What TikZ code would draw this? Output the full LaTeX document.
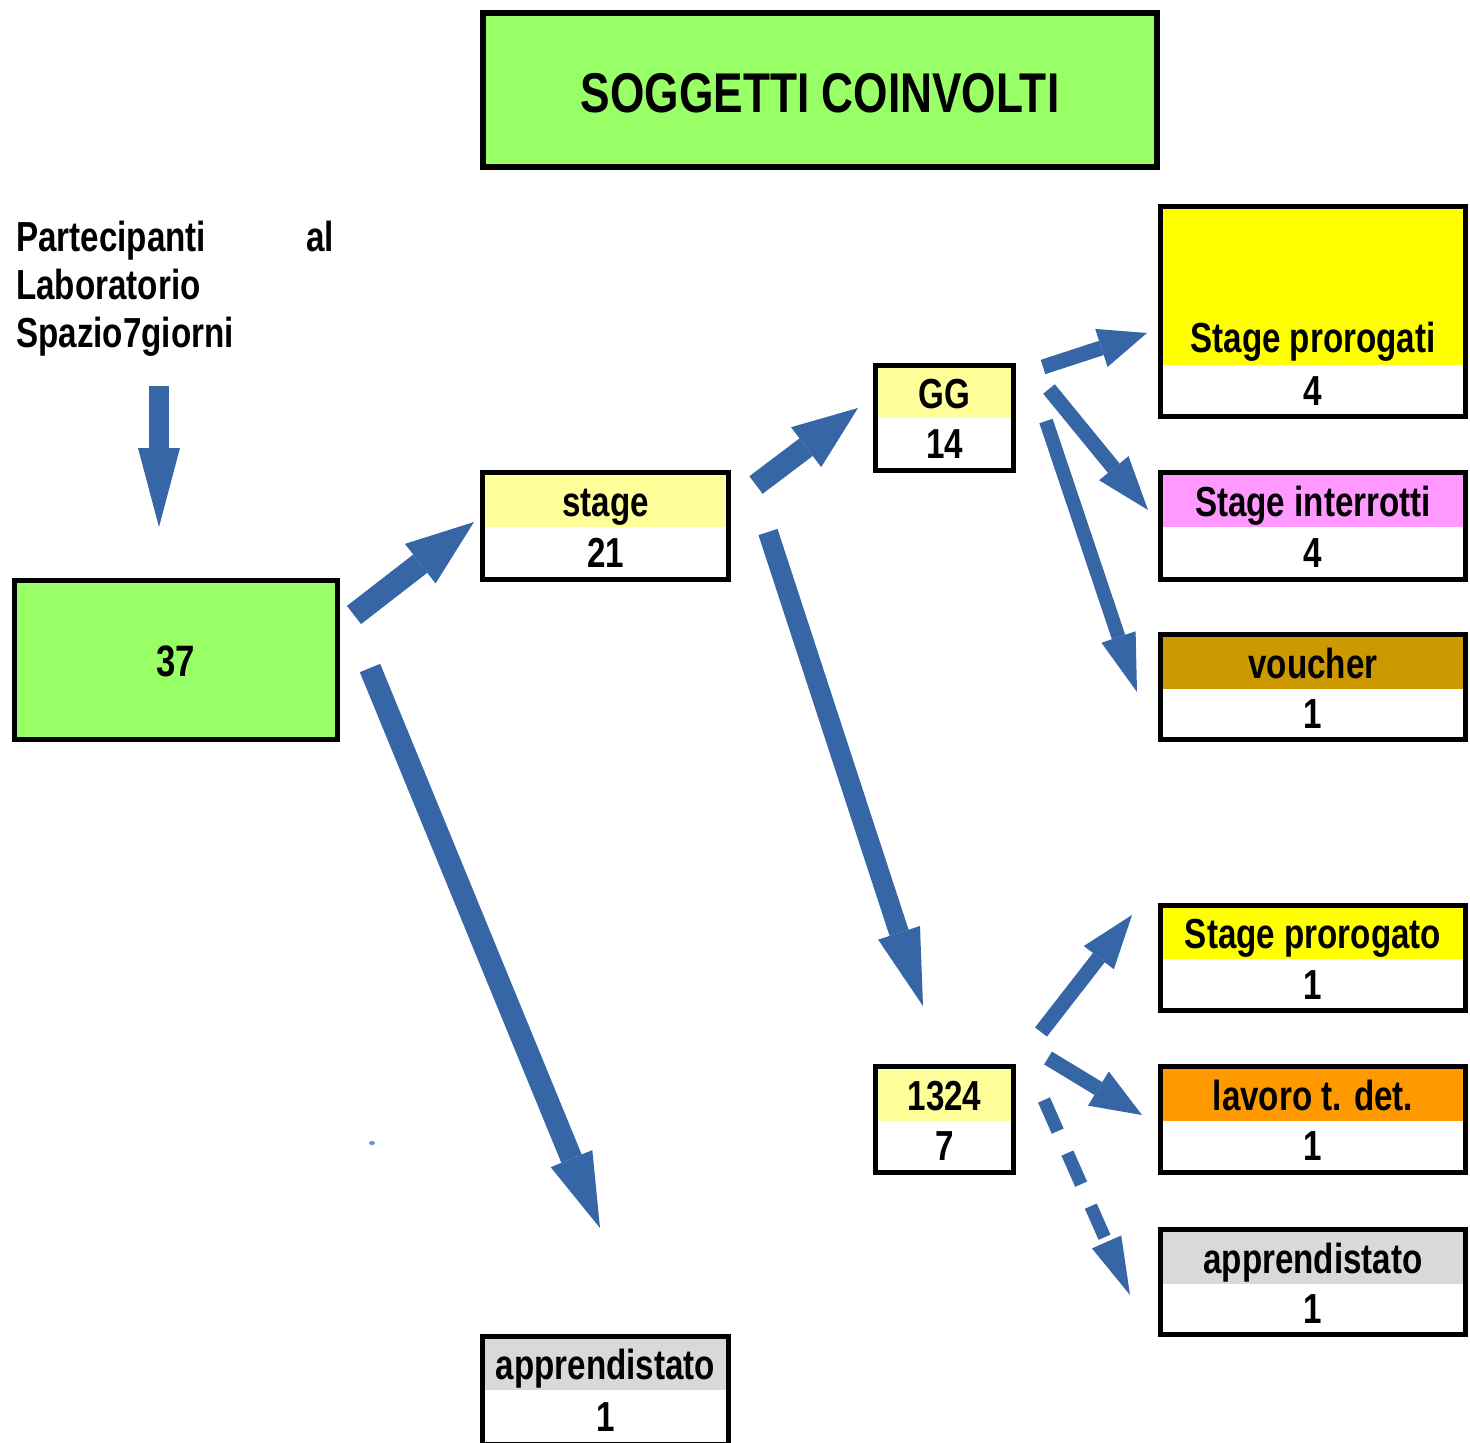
\documentclass[tikz,border=0pt]{standalone}
\usepackage{fontspec}
\setmainfont{Liberation Sans}[FakeStretch=0.79]
\usetikzlibrary{arrows.meta,fit}
\definecolor{ablue}{RGB}{54,102,166}
\definecolor{lgreen}{RGB}{153,255,102}
\definecolor{lyellow}{RGB}{255,255,153}
\definecolor{yel}{RGB}{255,255,0}
\definecolor{pinkc}{RGB}{255,153,255}
\definecolor{brownc}{RGB}{204,153,0}
\definecolor{orangec}{RGB}{255,153,0}
\definecolor{greyc}{RGB}{217,217,217}
\tikzset{
  frame/.style={draw=black, line width=5pt, inner sep=0pt, outer sep=0pt},
  lbl/.style={anchor=base, inner sep=0pt, font=\bfseries\fontsize{42}{48}\selectfont},
  lblL/.style={anchor=base west, inner sep=0pt, font=\bfseries\fontsize{42}{48}\selectfont},
  lblR/.style={anchor=base east, inner sep=0pt, font=\bfseries\fontsize{42}{48}\selectfont},
  barrow/.style n args={3}{draw=ablue, line width=#1pt,
    -{Triangle[length=#2pt,width=#3pt,line width=0pt]}},
}
\begin{document}
\begin{tikzpicture}[x=1pt,y=-1pt]
\useasboundingbox (0,0) rectangle (1470,1443);
\fill[white] (0,0) rectangle (1470,1443);
\begin{scope}
\clip (0,0) rectangle (1470,1443);

% title
\fill[lgreen] (483,13) rectangle (1157,167);
\node[frame, line width=6pt, fit={(483,13)(1157,167)}] (title) {};
\node[anchor=base, inner sep=0pt, font=\bfseries\fontsize{56}{60}\selectfont] (title-t) at (820,112) {SOGGETTI COINVOLTI};

% intro text
\node[lblL] (t1) at (16,251) {Partecipanti};
\node[lblR] (t2) at (334,251) {al};
\node[lblL] (t3) at (16,299) {Laboratorio};
\node[lblL] (t4) at (16,347) {Spazio7giorni};

% 37
\fill[lgreen] (14.5,580.5) rectangle (337.5,739.5);
\node[frame, fit={(14.5,580.5)(337.5,739.5)}] (b37) {};
\node[anchor=base, inner sep=0pt, font=\bfseries\fontsize{44}{48}\selectfont] (b37-t) at (176,676) {37};

% stage
\fill[lyellow] (482.5,472.5) rectangle (728.5,527);
\node[frame, fit={(482.5,472.5)(728.5,579.5)}] (stage) {};
\node[lbl] (stage-l) at (605.5,516) {stage};
\node[lbl] (stage-v) at (605.5,567) {21};

% GG
\fill[lyellow] (875.5,365.5) rectangle (1013.5,418);
\node[frame, fit={(875.5,365.5)(1013.5,470.5)}] (gg) {};
\node[lbl] (gg-l) at (944.5,408) {GG};
\node[lbl] (gg-v) at (944.5,458) {14};

% 1324
\fill[lyellow] (875.5,1066.5) rectangle (1013.5,1121);
\node[frame, fit={(875.5,1066.5)(1013.5,1172.5)}] (p1324) {};
\node[lbl] (p1324-l) at (944.5,1110) {1324};
\node[lbl] (p1324-v) at (944.5,1160) {7};

% Stage prorogati
\fill[yel] (1160.5,206.5) rectangle (1465.5,365);
\node[frame, fit={(1160.5,206.5)(1465.5,416.5)}] (sp4) {};
\node[lbl] (sp4-l) at (1313,352) {Stage prorogati};
\node[lbl] (sp4-v) at (1313,405) {4};

% Stage interrotti
\fill[pinkc] (1160.5,472.5) rectangle (1465.5,527);
\node[frame, fit={(1160.5,472.5)(1465.5,579.5)}] (si) {};
\node[lbl] (si-l) at (1313,516) {Stage interrotti};
\node[lbl] (si-v) at (1313,567) {4};

% voucher
\fill[brownc] (1160.5,634.5) rectangle (1465.5,689);
\node[frame, fit={(1160.5,634.5)(1465.5,739.5)}] (vo) {};
\node[lbl] (vo-l) at (1313,678) {voucher};
\node[lbl] (vo-v) at (1313,728) {1};

% Stage prorogato
\fill[yel] (1160.5,905.5) rectangle (1465.5,959);
\node[frame, fit={(1160.5,905.5)(1465.5,1010.5)}] (sp1) {};
\node[lbl] (sp1-l) at (1313,948) {Stage prorogato};
\node[lbl] (sp1-v) at (1313,999) {1};

% lavoro t. det.
\fill[orangec] (1160.5,1066.5) rectangle (1465.5,1121);
\node[frame, fit={(1160.5,1066.5)(1465.5,1172.5)}] (lav) {};
\node[lbl] (lav-l) at (1313,1110) {lavoro t. det.};
\node[lbl] (lav-v) at (1313,1160) {1};

% apprendistato (right)
\fill[greyc] (1160.5,1229.5) rectangle (1465.5,1284);
\node[frame, fit={(1160.5,1229.5)(1465.5,1334.5)}] (ar) {};
\node[lbl] (ar-l) at (1313,1273) {apprendistato};
\node[lbl] (ar-v) at (1313,1323) {1};

% apprendistato (bottom)
\fill[greyc] (482.5,1336.5) rectangle (728.5,1390);
\node[frame, fit={(482.5,1336.5)(728.5,1444)}] (ab) {};
\node[lbl] (ab-l) at (605.5,1379) {apprendistato};
\node[lbl] (ab-v) at (605.5,1431) {1};

% arrows
\coordinate (a1s) at (159,386);  \coordinate (a1e) at (159,527);
\coordinate (a2s) at (354,615);  \coordinate (a2e) at (474,522);
\coordinate (a3s) at (756,485);  \coordinate (a3e) at (858,408);
\coordinate (a4s) at (768,532);  \coordinate (a4e) at (923,1006);
\coordinate (a5s) at (370,668);  \coordinate (a5e) at (600,1228);
\coordinate (a6s) at (1043,367); \coordinate (a6e) at (1147,333);
\coordinate (a7s) at (1049,389); \coordinate (a7e) at (1148,510);
\coordinate (a8s) at (1046,421); \coordinate (a8e) at (1137,692);
\coordinate (a9s) at (1041,1032); \coordinate (a9e) at (1132,915);
\coordinate (a10s) at (1048,1058); \coordinate (a10e) at (1142,1115);
\coordinate (a11s) at (1044,1100); \coordinate (a11e) at (1130,1295);

\draw[barrow={20}{79}{42}] (a1s) -- (a1e);
\draw[barrow={23}{68}{50}] (a2s) -- (a2e);
\draw[barrow={22}{65}{50}] (a3s) -- (a3e);
\draw[barrow={20}{77}{44}] (a4s) -- (a4e);
\draw[barrow={22}{75}{45}] (a5s) -- (a5e);
\draw[barrow={15}{48}{40}] (a6s) -- (a6e);
\draw[barrow={15}{54}{38}] (a7s) -- (a7e);
\draw[barrow={14}{58}{36}] (a8s) -- (a8e);
\draw[barrow={15}{54}{38}] (a9s) -- (a9e);
\draw[barrow={15}{51}{40}] (a10s) -- (a10e);
\draw[barrow={13}{58}{32}, dash pattern=on 34pt off 24pt] (a11s) -- (a11e);

% small speck
\fill[ablue!70] (372,1143) ellipse (3 and 2);
\end{scope}
\end{tikzpicture}
\end{document}
